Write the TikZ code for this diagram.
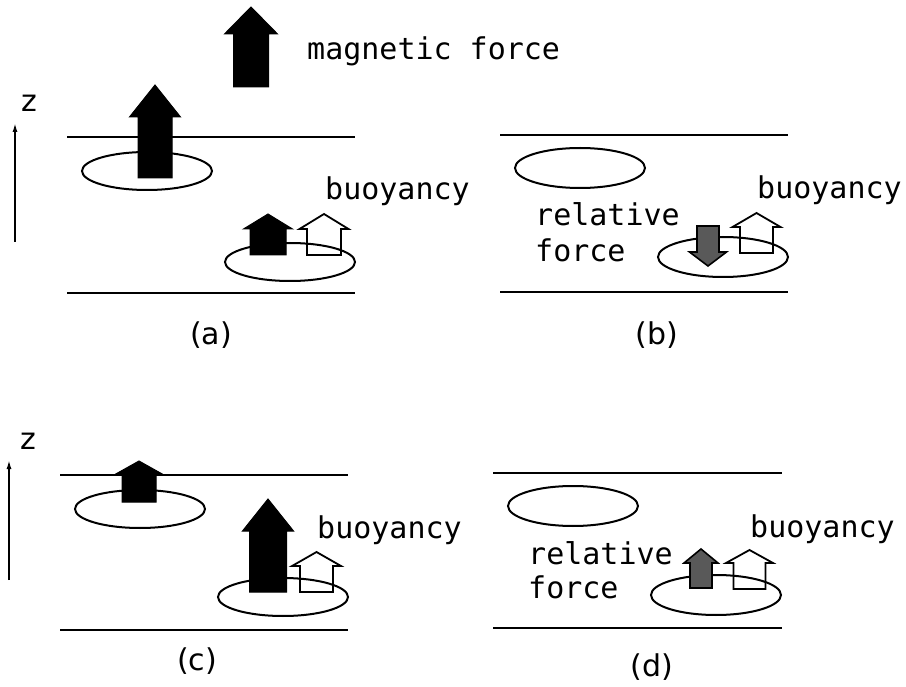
\documentclass[tikz,border=0pt]{standalone}
\usepackage{fontspec}
\setmainfont{DejaVu Sans}
\newfontfamily\labfont{DejaVu Sans Mono}
\usetikzlibrary{arrows.meta}
\newcommand{\blockarr}[7]{% style, cx, tip y, head base y, head half, shaft half, end y
  \draw[#1] (#2,#3) -- ({#2+#5},#4) -- ({#2+#6},#4) -- ({#2+#6},#7) -- ({#2-#6},#7) -- ({#2-#6},#4) -- ({#2-#5},#4) -- cycle;}
\begin{document}
\begin{tikzpicture}[x=1pt,y=-1pt,
  layer/.style={line width=2pt},
  bubble/.style={line width=2pt},
  solidarr/.style={fill=black,draw=black,line width=1pt,line join=miter},
  grayarr/.style={fill=black!65,draw=black,line width=1.6pt,line join=miter},
  hollowarr/.style={draw=black,line width=1.8pt,line join=miter},
  axis/.style={line width=1.6pt,-{Latex[length=9pt,width=5pt]}},
  word/.style={font=\labfont\fontsize{30}{32}\selectfont,inner sep=0pt,anchor=base west},
  tag/.style={font=\fontsize{30}{32}\selectfont,inner sep=0pt},
  zlab/.style={font=\fontsize{30}{32}\selectfont,inner sep=0pt}]
\useasboundingbox (0,0) rectangle (906,687);

% ---------- (a) ----------
\draw[layer] (67,137) -- (355,137);
\draw[layer] (67,293) -- (355,293);
\draw[bubble] (147,171) ellipse [x radius=65, y radius=19];
\draw[bubble] (290,262) ellipse [x radius=65, y radius=19];
\blockarr{solidarr}{251}{7}{34}{26.5}{17.5}{87}
\node[word] (mag) at (307,60) {magnetic force};
\blockarr{solidarr}{155}{85}{117}{25.5}{17}{178}
\blockarr{solidarr}{268}{214}{229}{24.5}{18}{255}
\blockarr{hollowarr}{324}{214}{229}{24.5}{17}{255}
\node[word] (buoya) at (325,200) {buoyancy};
\coordinate (za0) at (15,242);
\coordinate (za1) at (15,123);
\draw[axis] (za0) -- (za1);
\node[zlab] (za) at (29,103) {z};
\node[tag] (ta) at (211,335) {(a)};

% ---------- (b) ----------
\draw[layer] (500,135) -- (788,135);
\draw[layer] (500,292) -- (788,292);
\draw[bubble] (580,168) ellipse [x radius=65, y radius=20];
\draw[bubble] (723,257) ellipse [x radius=65, y radius=20];
\blockarr{grayarr}{708}{266}{252}{18.5}{11}{226}
\blockarr{hollowarr}{756.5}{213}{227}{24}{16.5}{253}
\node[word] (buoyb) at (757,199) {buoyancy};
\node[word] (relb) at (535,226) {relative};
\node[word] (forb) at (535,262) {force};
\node[tag] (tb) at (657,335) {(b)};

% ---------- (c) ----------
\draw[layer] (60,475) -- (348,475);
\draw[layer] (60,630) -- (348,630);
\draw[bubble] (140,509) ellipse [x radius=65, y radius=19];
\draw[bubble] (283,597) ellipse [x radius=65, y radius=19];
\blockarr{solidarr}{139}{461}{475}{25}{17}{502}
\blockarr{solidarr}{268}{499}{531}{25.5}{18.5}{592}
\blockarr{hollowarr}{316.5}{552}{566}{24.5}{16.5}{592}
\node[word] (buoyc) at (317,538) {buoyancy};
\coordinate (zc0) at (9,580);
\coordinate (zc1) at (9,460);
\draw[axis] (zc0) -- (zc1);
\node[zlab] (zc) at (28,441) {z};
\node[tag] (tc) at (197,661) {(c)};

% ---------- (d) ----------
\draw[layer] (493,473) -- (782,473);
\draw[layer] (493,628) -- (782,628);
\draw[bubble] (573,506) ellipse [x radius=65, y radius=20];
\draw[bubble] (716,595) ellipse [x radius=65, y radius=20];
\blockarr{grayarr}{701}{549}{563}{17}{11}{588}
\blockarr{hollowarr}{749.5}{550}{563}{23.5}{16}{589}
\node[word] (buoyd) at (750,537) {buoyancy};
\node[word] (reld) at (528,564) {relative};
\node[word] (ford) at (528,598) {force};
\node[tag] (td) at (652,667) {(d)};
\end{tikzpicture}
\end{document}
